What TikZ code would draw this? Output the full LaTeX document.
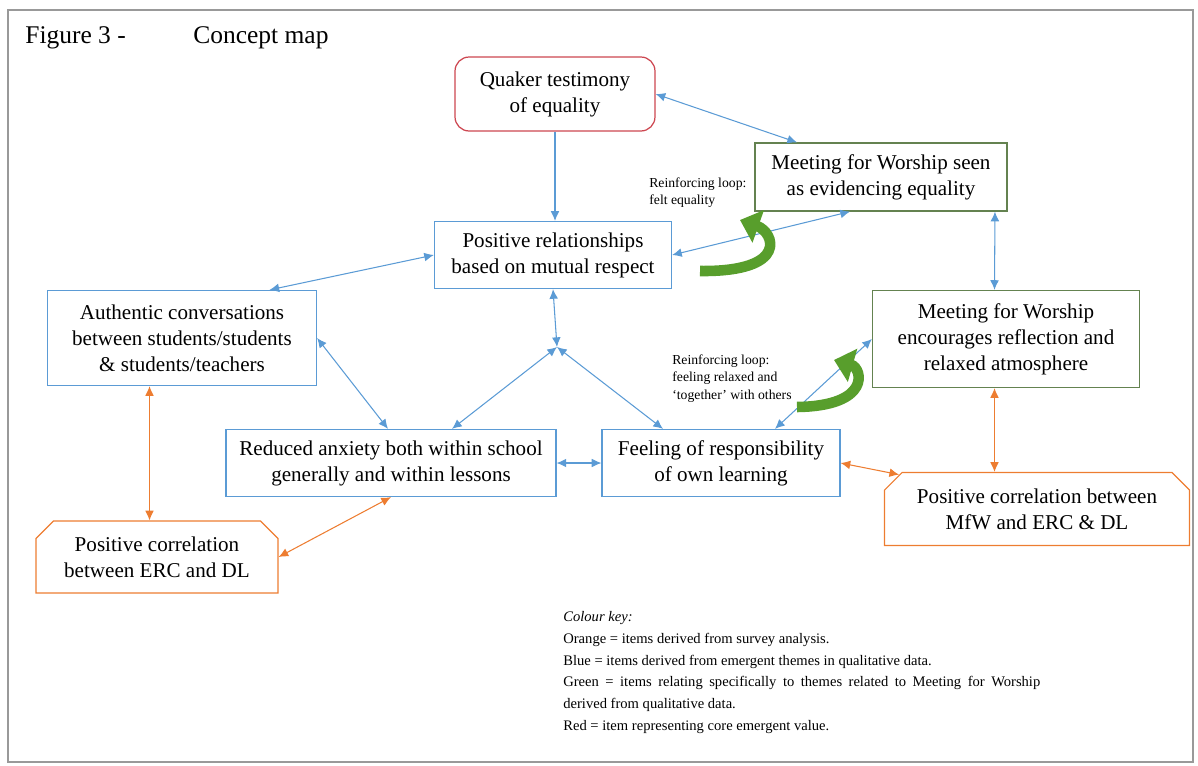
\documentclass[tikz,border=0pt]{standalone}
\usepackage{fontspec}
\setmainfont{Liberation Serif}
\usetikzlibrary{arrows.meta,shapes.misc}
\definecolor{mapblue}{RGB}{91,155,213}
\definecolor{mapgreen}{RGB}{100,130,80}
\definecolor{mapred}{RGB}{205,70,80}
\definecolor{maporange}{RGB}{237,125,49}
\definecolor{loopgreen}{RGB}{88,158,44}

\begin{document}
\begin{tikzpicture}[x=0.02cm, y=-0.02cm, >={Latex[length=5.5pt,width=5pt]},
    every node/.style={font=\fontsize{12}{14.8}\selectfont, align=center, inner sep=2pt},
    bluebox/.style={draw=mapblue, rectangle, line width=0.7pt},
    greenbox/.style={draw=mapgreen, rectangle, line width=0.7pt},
    redbox/.style={draw=mapred, rectangle, rounded corners=8pt, line width=0.7pt},
    obox/.style={draw=maporange, chamfered rectangle, chamfered rectangle corners={north west,north east},
        chamfered rectangle xsep=5pt, chamfered rectangle ysep=5pt, line width=0.7pt},
    link/.style={mapblue, line width=0.6pt},
    olink/.style={maporange, line width=0.6pt},
    loop arrow/.style={loopgreen, line width=6pt, -{Triangle[length=11pt,width=19pt]}},
    looptext/.style={font=\fontsize{7.8}{10.2}\selectfont, align=left, anchor=north west, inner sep=0pt}]
    \useasboundingbox (0,0) rectangle (1198,765);
    \draw[gray!80, line width=0.8pt] (8,10) rectangle (1193,762);

    \node[anchor=base west, font=\fontsize{14.5}{16}\selectfont, inner sep=0pt] (t1) at (25,43) {Figure 3 -};
    \node[anchor=base west, font=\fontsize{14.5}{16}\selectfont, inner sep=0pt] (t2) at (193,43) {Concept map};

    \node[redbox, minimum width=4cm, minimum height=1.48cm] (n1) at (555,94) {Quaker testimony\\of equality};
    \node[greenbox, minimum width=5.04cm, minimum height=1.36cm] (n2) at (881,177) {Meeting for Worship seen\\as evidencing equality};
    \node[bluebox, minimum width=4.74cm, minimum height=1.34cm] (n3) at (553,255) {Positive relationships\\based on mutual respect};
    \node[bluebox, minimum width=5.38cm, minimum height=1.9cm] (n4) at (182,338) {Authentic conversations\\between students/students\\\& students/teachers};
    \node[greenbox, minimum width=5.34cm, minimum height=1.94cm] (n5) at (1006,339) {Meeting for Worship\\encourages reflection and\\relaxed atmosphere};
    \node[bluebox, minimum width=6.6cm, minimum height=1.34cm] (n6) at (391,463) {Reduced anxiety both within school\\generally and within lessons};
    \node[bluebox, minimum width=4.76cm, minimum height=1.34cm] (n7) at (721,463) {Feeling of responsibility\\of own learning};
    \node[obox, minimum width=4.84cm, minimum height=1.44cm] (n8) at (157,557) {Positive correlation\\between ERC and DL};
    \node[obox, minimum width=6.1cm, minimum height=1.46cm] (n9) at (1037,509) {Positive correlation between\\MfW and ERC \& DL};
    \coordinate (hub) at (557,347);

    \node[looptext] (l1) at (649,177) {Reinforcing loop:\\felt equality};
    \node[looptext] (l2) at (672,354) {Reinforcing loop:\\feeling relaxed and\\`together' with others};

    \draw[link, ->] (n1.south) -- (n1.south |- n3.north);
    \draw[link, <->] (n1.east) -- ([xshift=-1.68cm]n2.north);
    \draw[link, <->] ([xshift=-0.62cm]n2.south) -- (n3.east);
    \draw[link, <->] ([xshift=2.28cm]n2.south) -- ([xshift=-0.23cm]n5.north);
    \draw[link, <->] (n3.west) -- ([xshift=1.75cm]n4.north);
    \draw[link, <->] (n3.south) -- (hub);
    \draw[link, <->] (hub) -- ([xshift=1.22cm]n6.north);
    \draw[link, <->] (hub) -- ([xshift=-1.16cm]n7.north);
    \draw[link, <->] (n4.east) -- ([xshift=-0.06cm]n6.north);
    \draw[link, <->] (n6.east) -- (n7.west);
    \draw[link, <->] ([xshift=1.08cm]n7.north) -- (n5.west);

    \draw[olink, <->] ([xshift=-0.65cm]n4.south) -- ([xshift=-0.65cm]n4.south |- n8.north);
    \draw[olink, <->] (n6.south) -- (n8.east);
    \draw[olink, <->] ([xshift=-0.23cm]n5.south) -- ([xshift=-0.23cm]n5.south |- n9.north);
    \draw[olink, <->] (n7.east) -- (n9.166);

    % reinforcing loops
    \draw[loop arrow] (700,271) .. controls (790,272) and (774,232) .. (740,220);
    \draw[loop arrow] (797,407) .. controls (872,406) and (862,368) .. (834,360);

    \node[anchor=north west, text width=9.54cm, align=justify, inner sep=0pt,
        font=\fontsize{8.3}{12.4}\selectfont] (key) at (563,611) {\textit{Colour key:}\\
        Orange = items derived from survey analysis.\\
        Blue = items derived from emergent themes in qualitative data.\\
        Green = items relating specifically to themes related to Meeting for Worship\linebreak
        derived from qualitative data.\\
        Red = item representing core emergent value.};
\end{tikzpicture}
\end{document}
